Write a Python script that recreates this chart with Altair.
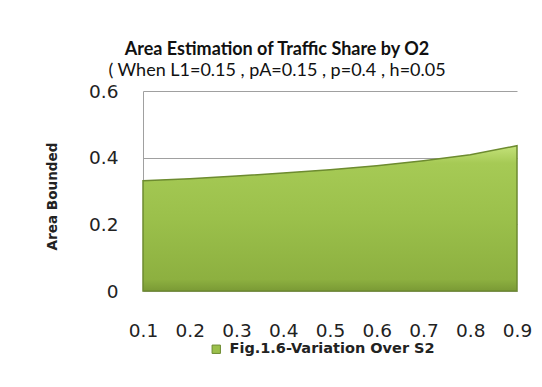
import altair as alt
import pandas as pd

s2 = [0.1, 0.2, 0.3, 0.4, 0.5, 0.6, 0.7, 0.8, 0.9]
area_bounded = [0.331, 0.337, 0.345, 0.354, 0.364, 0.376, 0.391, 0.409, 0.436]
series = ["Fig.1.6-Variation Over S2"] * len(s2)

df = pd.DataFrame({"S2": s2, "Area": area_bounded, "Series": series})

FONT = "Lato"
NUMFONT = "DejaVu Sans"

x_enc = alt.X("S2:Q", scale=alt.Scale(domain=[0.1, 0.9], nice=False, zero=False),
              axis=alt.Axis(values=s2, format=".1f", title=None, labelFontSize=18.5,
                            labelColor="#222222", labelPadding=30, domain=False,
                            ticks=False, grid=False, labelFont=NUMFONT,
                            labelOverlap=False, labelFlush=False))
y_enc = alt.Y("Area:Q", scale=alt.Scale(domain=[0, 0.6], nice=False),
              axis=alt.Axis(values=[0, 0.2, 0.4, 0.6], title="Area  Bounded",
                            labelExpr="datum.value == 0 ? '0' : format(datum.value, '.1f')",
                            labelFontSize=18.5, labelColor="#222222", labelPadding=25,
                            labelFont=NUMFONT, ticks=False, domainColor="#a0a0a0",
                            gridColor="#a0a0a0", gridWidth=1, labelFlush=False,
                            titleFont="DejaVu Sans", titleFontSize=13.6, titleFontWeight="bold",
                            titleColor="#222222", titleX=-91, titleY=105,
                            titleAngle=-90, titleAlign="center", titleBaseline="middle"))

base_area = alt.Chart(df).mark_area(opacity=1).encode(
    x=x_enc,
    y=y_enc,
    color=alt.Color("Series:N",
                    scale=alt.Scale(range=["#9bc04b"]),
                    legend=alt.Legend(title=None, orient="none", legendX=66, legendY=251,
                                      symbolType="square", symbolSize=70,
                                      symbolStrokeColor="#6d8b30", symbolStrokeWidth=1,
                                      labelFont="DejaVu Sans", labelFontSize=14.5,
                                      labelFontWeight="bold", labelColor="#222222",
                                      labelOffset=6, labelLimit=0)),
)

grad_area = alt.Chart(df).mark_area(
    fill=alt.Gradient(
        gradient="linear",
        stops=[
            alt.GradientStop(color="#c4e27a", offset=0),
            alt.GradientStop(color="#a6ca55", offset=0.12),
            alt.GradientStop(color="#9bc04b", offset=0.5),
            alt.GradientStop(color="#8db040", offset=0.92),
            alt.GradientStop(color="#7a9a35", offset=1),
        ],
        x1=0, x2=0, y1=0, y2=1,
    ),
    stroke="#6d8b30",
    strokeWidth=1.5,
).encode(x="S2:Q", y="Area:Q")

chart = alt.layer(base_area, grad_area).properties(
    width=374,
    height=200,
    padding={"left": 135, "top": 83, "right": 17, "bottom": 88},
    autosize=alt.AutoSizeParams(type="none"),
    background="white",
    title=alt.TitleParams(
        text="Area Estimation of Traffic Share by O2",
        subtitle="( When  L1=0.15 , pA=0.15 , p=0.4 , h=0.05",
        anchor="middle",
        dx=-53,
        offset=2,
        font=FONT,
        fontSize=18,
        fontWeight="bold",
        color="#111111",
        subtitleFont=FONT,
        subtitleFontSize=18,
        subtitleColor="#111111",
        subtitlePadding=3,
    ),
).configure_view(stroke=None)

chart.save("out.html", embed_options={"renderer": "svg", "actions": False})
